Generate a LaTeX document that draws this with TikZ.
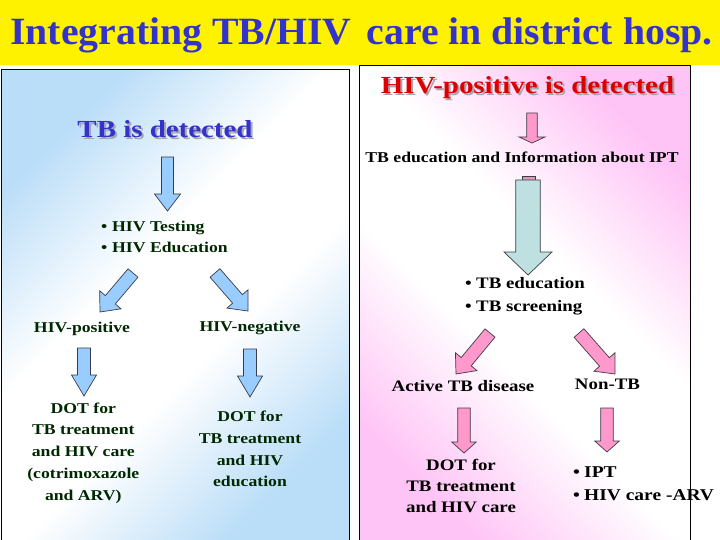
\documentclass[tikz,border=0pt]{standalone}
\usepackage{fontspec}
\setmainfont{Liberation Serif}
\newfontfamily\bodyfont[FakeStretch=1.18]{Liberation Serif}
\newfontfamily\headfont[FakeStretch=1.03]{Liberation Serif}
\usetikzlibrary{calc}

\definecolor{titleblue}{RGB}{51,51,204}
\definecolor{hdred}{RGB}{221,0,0}
\definecolor{txtgreen}{RGB}{0,40,0}
\definecolor{panelblue}{RGB}{186,221,248}
\definecolor{panelpink}{RGB}{255,196,246}
\definecolor{arrblue}{RGB}{153,204,255}
\definecolor{arrpink}{RGB}{255,153,204}
\definecolor{arrteal}{RGB}{190,224,224}
\definecolor{capmauve}{RGB}{221,153,187}
\definecolor{shadowgray}{RGB}{165,165,175}
\definecolor{arrline}{RGB}{60,60,70}

\pgfdeclareverticalshading{bluepanel}{100bp}{color(0bp)=(panelblue); color(25bp)=(panelblue);
  color(43bp)=(white); color(57bp)=(white); color(75bp)=(panelblue); color(100bp)=(panelblue)}
\pgfdeclareverticalshading{pinkpanel}{100bp}{color(0bp)=(panelpink); color(25bp)=(panelpink);
  color(43bp)=(white); color(57bp)=(white); color(75bp)=(panelpink); color(100bp)=(panelpink)}

% block arrow: style, tail, tip, shaft half width, head half width, head length
\newcommand{\blkarrow}[6]{%
  \coordinate (#2h) at ($(#3)!#6!(#2)$);
  \draw[#1] ($(#2)!#4!90:(#3)$) -- ($(#2h)!#4!90:(#3)$) -- ($(#2h)!#5!90:(#3)$) -- (#3)
    -- ($(#2h)!#5!-90:(#3)$) -- ($(#2h)!#4!-90:(#3)$) -- ($(#2)!#4!-90:(#3)$) -- cycle;
}
\newcommand{\bul}{\makebox[11pt][l]{\textbullet}}

\tikzset{
  title/.style={font=\headfont\bfseries\fontsize{38.6}{44}\selectfont, text=titleblue, inner sep=0pt, anchor=base},
  head/.style={font=\bodyfont\bfseries\fontsize{24.5}{28}\selectfont, inner sep=0pt, anchor=base},
  body/.style={font=\bodyfont\bfseries\fontsize{15}{21.7}\selectfont, inner sep=0pt, anchor=base, align=center},
  big body/.style={body, font=\bodyfont\bfseries\fontsize{16}{21}\selectfont},
  list/.style={body, align=left, anchor=base west},
  big list/.style={big body, align=left, anchor=base west, font=\bodyfont\bfseries\fontsize{16}{22.7}\selectfont},
  blue arr/.style={fill=arrblue, draw=arrline, line width=0.7pt},
  pink arr/.style={fill=arrpink, draw=arrline, line width=0.7pt},
  teal arr/.style={fill=arrteal, draw=arrline, line width=0.7pt}
}

\begin{document}
\begin{tikzpicture}[x=1pt,y=-1pt]
\useasboundingbox (0,0) rectangle (720,540);
\fill[white] (0,0) rectangle (720,540);
\fill[yellow] (0,0) rectangle (720,65.5);
\node[title] (title) at (361.5,45) {Integrating TB/HIV\hspace{5pt} care in district hosp.};

% panels (multi-line nodes sit on the baseline of their last line)
\shadedraw[draw=black, line width=1pt, shading=bluepanel, shading angle=45] (1.5,70) rectangle (349,542);
\shadedraw[draw=black, line width=1pt, shading=pinkpanel, shading angle=-45] (359.5,66) rectangle (690,542);

% TB side
\node[head, text=shadowgray] (tbdet-sh) at (167,140) {TB is detected};
\node[head, text=titleblue] (tbdet) at (165,138) {TB is detected};
\node[list, text=txtgreen] (hivtest) at (101,252.7) {\bul HIV Testing\\\bul HIV Education};
\node[body, text=txtgreen] (hivpos) at (82,332.5) {HIV-positive};
\node[body, text=txtgreen] (hivneg) at (250,331.7) {HIV-negative};
\node[body, text=txtgreen] (dotpos) at (83.3,500) {DOT for\\TB treatment\\and HIV care\\(cotrimoxazole\\and ARV)};
\node[body, text=txtgreen] (dotneg) at (250,486.7) {DOT for\\TB treatment\\and HIV\\education};

\coordinate (tbA) at (167.5,157);
\coordinate (tbAp) at (167.5,211);
\coordinate (posA) at (133,273);
\coordinate (posAp) at (100,312);
\coordinate (negA) at (215,273);
\coordinate (negAp) at (248,311);
\coordinate (dposA) at (84,348);
\coordinate (dposAp) at (84,396);
\coordinate (dnegA) at (250,349);
\coordinate (dnegAp) at (250,397);
\blkarrow{blue arr}{tbA}{tbAp}{6pt}{13pt}{17pt}
\blkarrow{blue arr}{posA}{posAp}{6.5pt}{14pt}{16pt}
\blkarrow{blue arr}{negA}{negAp}{6.5pt}{14pt}{16pt}
\blkarrow{blue arr}{dposA}{dposAp}{6.5pt}{12.5pt}{21pt}
\blkarrow{blue arr}{dnegA}{dnegAp}{6.5pt}{12.5pt}{21pt}

% HIV side
\node[head, text=shadowgray] (hivdet-sh) at (529.5,95.3) {HIV-positive is detected};
\node[head, text=hdred] (hivdet) at (527.5,93.3) {HIV-positive is detected};
\node[body, text=black] (tbinfo) at (522,162.5) {TB education and Information about IPT};
\node[big list, text=black] (tbscreen) at (465,311.5) {\bul TB education\\\bul TB screening};
\node[big body, text=black] (active) at (463,391.7) {Active TB disease};
\node[big body, text=black] (nontb) at (607.5,389.5) {Non-TB};
\node[big body, text=black] (dotact) at (461,512.5) {DOT for\\TB treatment\\and HIV care};
\node[big list, text=black, font=\bodyfont\bfseries\fontsize{16.5}{22.7}\selectfont] (ipt) at (573,500)
  {\bul IPT\\\bul HIV care -ARV};

\coordinate (detB) at (532,113);
\coordinate (detBp) at (532,143);
\coordinate (infoB) at (528,180);
\coordinate (infoBp) at (528,275);
\coordinate (actB) at (490,333);
\coordinate (actBp) at (456,374);
\coordinate (nonB) at (579,333);
\coordinate (nonBp) at (615,374);
\coordinate (dactB) at (464,408);
\coordinate (dactBp) at (464,453);
\coordinate (iptB) at (607,408);
\coordinate (iptBp) at (607,452);
\blkarrow{pink arr}{detB}{detBp}{5.3pt}{13pt}{6pt}
\draw[fill=capmauve, draw=arrline, line width=0.7pt] (522.5,176) rectangle (535,180);
\blkarrow{teal arr}{infoB}{infoBp}{12.3pt}{24pt}{23pt}
\blkarrow{pink arr}{actB}{actBp}{6.5pt}{14pt}{16pt}
\blkarrow{pink arr}{nonB}{nonBp}{6.5pt}{14pt}{16pt}
\blkarrow{pink arr}{dactB}{dactBp}{6.3pt}{12.3pt}{11pt}
\blkarrow{pink arr}{iptB}{iptBp}{6.3pt}{12.3pt}{11pt}
\end{tikzpicture}
\end{document}
